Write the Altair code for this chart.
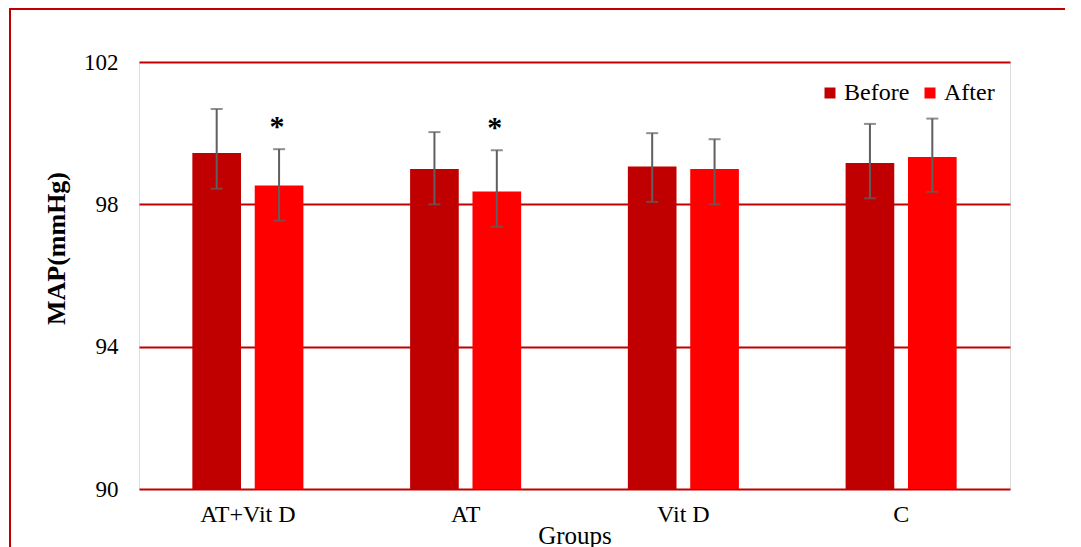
import altair as alt
import pandas as pd

groups = ["AT+Vit D", "AT", "Vit D", "C"]
phases = ["Before", "After"]

before_mean = [99.44, 98.99, 99.06, 99.16]
before_lo = [98.44, 98.00, 98.07, 98.17]
before_hi = [100.68, 100.03, 100.00, 100.26]

after_mean = [98.53, 98.36, 98.99, 99.33]
after_lo = [97.54, 97.37, 98.00, 98.35]
after_hi = [99.55, 99.52, 99.83, 100.41]
after_mark = ["*", "*", "", ""]

y_ticks = [90, 94, 98, 102]
colors = ["#C00000", "#FF0000"]

rows = []
for i, g in enumerate(groups):
    rows.append({"group": g, "phase": "Before", "mean": before_mean[i],
                 "lo": before_lo[i], "hi": before_hi[i], "mark": ""})
    rows.append({"group": g, "phase": "After", "mean": after_mean[i],
                 "lo": after_lo[i], "hi": after_hi[i], "mark": after_mark[i]})
df = pd.DataFrame(rows)

FONT = "Liberation Serif"

x_enc = alt.X("group:N", sort=groups,
              scale=alt.Scale(paddingInner=0.49, paddingOuter=0.245),
              axis=alt.Axis(title="Groups", labelAngle=0, labelFontSize=24,
                            labelFont=FONT, labelColor="black", ticks=False,
                            domain=False, labelPadding=13,
                            titleFont=FONT, titleFontSize=25, titleFontWeight="normal",
                            titleColor="black", titleBaseline="alphabetic", titleY=54))
xo_enc = alt.XOffset("phase:N", sort=phases,
                     scale=alt.Scale(paddingInner=0.22, paddingOuter=0))

y_scale = alt.Scale(domain=[90, 102], zero=False, nice=False)

base = alt.Chart(df)

bars = base.mark_bar().encode(
    x=x_enc,
    xOffset=xo_enc,
    y=alt.Y("mean:Q", scale=y_scale,
            axis=alt.Axis(title="MAP(mmHg)", values=y_ticks, ticks=False, domain=False,
                          labelFontSize=23, labelFont=FONT, labelColor="black",
                          labelPadding=21, grid=True, gridColor="#C00000", gridWidth=2,
                          titleFont=FONT, titleFontSize=26, titleFontWeight="bold",
                          titleColor="black", titleAngle=-90, titleX=-83, titleY=186,
                          titleAlign="center", titleBaseline="middle")),
    y2=alt.datum(90),
    color=alt.Color("phase:N", sort=phases,
                    scale=alt.Scale(domain=phases, range=colors),
                    legend=alt.Legend(title=None, orient="none", direction="horizontal",
                                      legendX=679, legendY=19, symbolType="square",
                                      symbolSize=121, symbolStrokeWidth=0,
                                      labelFont=FONT, labelFontSize=24, labelColor="black",
                                      labelOffset=2, columnPadding=8)),
)

err = base.mark_rule(color="#5F5F5F", strokeWidth=2).encode(
    x=alt.X("group:N", sort=groups),
    xOffset=alt.XOffset("phase:N", sort=phases),
    y=alt.Y("lo:Q", scale=y_scale),
    y2="hi:Q",
)

cap_lo = base.mark_tick(color="#5F5F5F", thickness=2, size=12, orient="horizontal").encode(
    x=alt.X("group:N", sort=groups),
    xOffset=alt.XOffset("phase:N", sort=phases),
    y=alt.Y("lo:Q", scale=y_scale),
)
cap_hi = base.mark_tick(color="#5F5F5F", thickness=2, size=12, orient="horizontal").encode(
    x=alt.X("group:N", sort=groups),
    xOffset=alt.XOffset("phase:N", sort=phases),
    y=alt.Y("hi:Q", scale=y_scale),
)

stars = base.mark_text(font=FONT, fontSize=30, fontWeight="bold", color="black",
                       baseline="middle", dy=-22, dx=-2).encode(
    x=alt.X("group:N", sort=groups),
    xOffset=alt.XOffset("phase:N", sort=phases),
    y=alt.Y("hi:Q", scale=y_scale),
    text="mark:N",
)

frame = alt.Chart(pd.DataFrame({"a": [0]})).mark_rect(
    fill=None, filled=False, stroke="#C00000", strokeWidth=2, clip=False
).encode(
    x=alt.value(-129), x2=alt.value(1000),
    y=alt.value(-53), y2=alt.value(560),
)

chart = alt.layer(bars, err, cap_lo, cap_hi, stars, frame).properties(
    width=871, height=427,
    autosize=alt.AutoSizeParams(type="none"),
    padding={"left": 131, "top": 54, "right": 55, "bottom": 70},
).configure_view(
    stroke="#C00000", strokeWidth=2
).configure(background="white")

chart.save("out.html", embed_options={"renderer": "svg", "actions": False})
